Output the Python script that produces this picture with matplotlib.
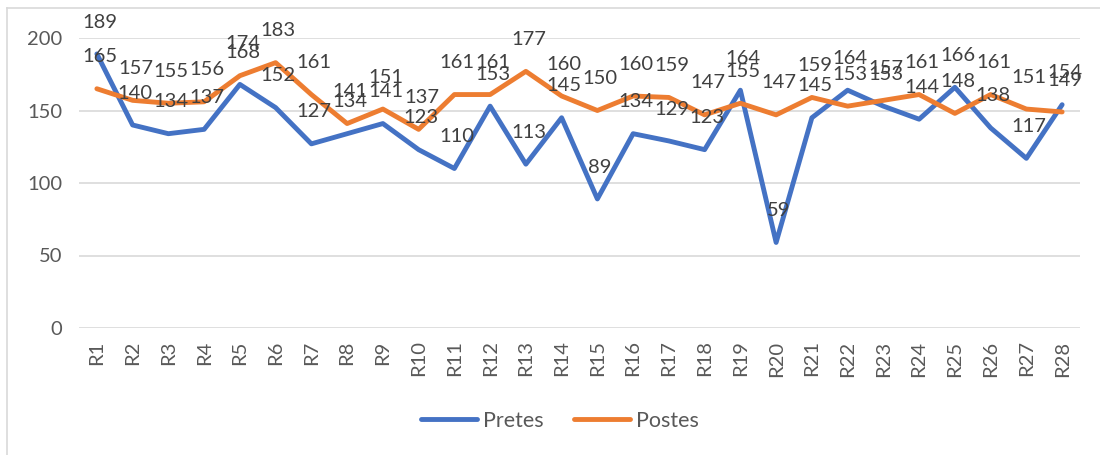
import matplotlib
matplotlib.use('Agg')
import matplotlib.pyplot as plt
from matplotlib.lines import Line2D

CATEGORIES = [f'R{i}' for i in range(1, 29)]
PRETES = [189, 140, 134, 137, 168, 152, 127, 134, 141, 123, 110, 153, 113, 145,
          89, 134, 129, 123, 164, 59, 145, 164, 153, 144, 166, 138, 117, 154]
POSTES = [165, 157, 155, 156, 174, 183, 161, 141, 151, 137, 161, 161, 177, 160,
          150, 160, 159, 147, 155, 147, 159, 153, 157, 161, 148, 161, 151, 149]
Y_TICKS = [0, 50, 100, 150, 200]

plt.rcParams['font.family'] = ['Lato', 'DejaVu Sans']

fig = plt.figure(figsize=(11, 4.55), dpi=100)
ax = fig.add_axes([79 / 1100, 1 - 328 / 455, 1001 / 1100, 290 / 455])

x = list(range(len(CATEGORIES)))
series = [('Pretes', PRETES, '#4472C4'), ('Postes', POSTES, '#ED7D31')]
for name, values, color in series:
    ax.plot(x, values, color=color, lw=3.5, label=name,
            solid_joinstyle='round', solid_capstyle='round', zorder=3)

# data labels above each point
for name, values, color in series:
    for xi, v in zip(x, values):
        ax.annotate(str(v), (xi, v), xytext=(2, 23), textcoords='offset points',
                    ha='center', va='center', fontsize=14.5, color='#404040', zorder=5)

ax.set_xlim(-0.5, len(CATEGORIES) - 0.5)
ax.set_ylim(0, 200)
ax.set_yticks(Y_TICKS)
ax.set_xticks(x)
ax.set_xticklabels(CATEGORIES, rotation=90)
ax.tick_params(axis='both', length=0, labelsize=14.5, labelcolor='#595959')
ax.tick_params(axis='y', pad=12)
ax.tick_params(axis='x', pad=9)
ax.grid(axis='y', color='#D9D9D9', lw=1.2)
ax.set_axisbelow(True)
for s in ax.spines.values():
    s.set_visible(False)

ax.legend(loc='center', bbox_to_anchor=(560 / 1100, 1 - 421 / 455),
          bbox_transform=fig.transFigure, ncol=2, frameon=False, fontsize=15.5,
          handlelength=2.6, handletextpad=0.3, columnspacing=1.4,
          labelcolor='#595959')

# chart area border (partially cropped)
fig.add_artist(Line2D([7 / 1100, 7 / 1100], [0, 1 - 8 / 455], transform=fig.transFigure,
                      color='#D9D9D9', lw=1.2))
fig.add_artist(Line2D([7 / 1100, 1], [1 - 8 / 455, 1 - 8 / 455], transform=fig.transFigure,
                      color='#D9D9D9', lw=1.2))

fig.savefig('out.png', dpi=100)
